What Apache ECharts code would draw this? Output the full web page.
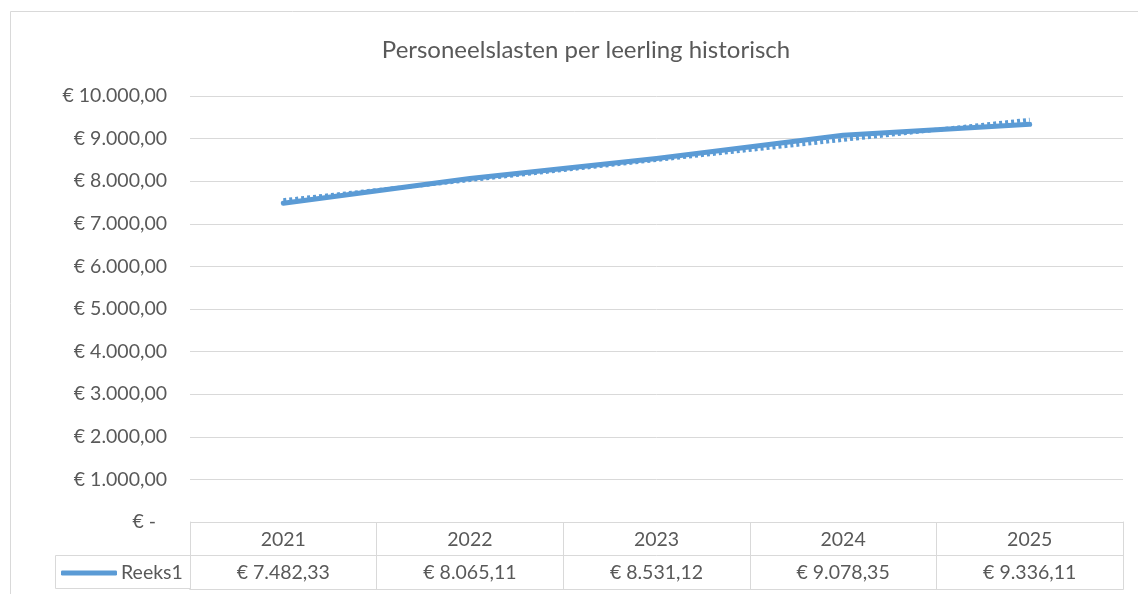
<!DOCTYPE html>
<html>
<head>
<meta charset="utf-8">
<script src="https://cdn.jsdelivr.net/npm/echarts@6/dist/echarts.min.js"></script>
<style>
  html, body { margin: 0; padding: 0; background: #ffffff; }
  #chart { width: 1138px; height: 594px; }
</style>
</head>
<body>
<div id="chart"></div>
<script>
// ---- data ----
const titleText = 'Personeelslasten per leerling historisch';
const seriesName = 'Reeks1';
const years = ['2021', '2022', '2023', '2024', '2025'];
const values = [7482.33, 8065.11, 8531.12, 9078.35, 9336.11];
const yMin = 0, yMax = 10000, yStep = 1000;

// ---- helpers ----
function eur(v) {
  if (v === 0) return '€ -';
  const parts = v.toFixed(2).split('.');
  const intPart = parts[0].replace(/\B(?=(\d{3})+(?!\d))/g, '.');
  return '€ ' + intPart + ',' + parts[1];
}
// linear trendline (least squares) computed from the series, like Excel's
function linearTrend(ys) {
  const n = ys.length;
  let sx = 0, sy = 0, sxx = 0, sxy = 0;
  ys.forEach((y, i) => { const x = i + 1; sx += x; sy += y; sxx += x * x; sxy += x * y; });
  const b = (n * sxy - sx * sy) / (n * sxx - sx * sx);
  const a = (sy - b * sx) / n;
  return ys.map((_, i) => a + b * (i + 1));
}
const trend = linearTrend(values);

const FONT = 'Lato';
const FS = 19.5;
const TXT = '#595959';
const LINE = '#d9d9d9';
const BLUE = '#5b9bd5';

const chart = echarts.init(document.getElementById('chart'), null, { renderer: 'canvas' });
chart.setOption({
  backgroundColor: '#ffffff',
  animation: false,
  textStyle: { fontFamily: FONT },
  title: {
    text: titleText,
    left: 581, top: 33, textAlign: 'center',
    textStyle: { fontFamily: FONT, fontSize: 24, fontWeight: 'normal', color: TXT }
  },
  legend: {
    data: [seriesName],
    left: 61, top: 563,
    padding: 0,
    itemWidth: 56, itemHeight: 5,
    itemGap: 0,
    icon: 'roundRect',
    textStyle: { fontFamily: FONT, fontSize: FS, color: TXT, padding: [0, 0, 0, -1] }
  },
  grid: [
    { left: 190, right: 15, top: 96, bottom: 72 },
    { left: 190, right: 15, top: 522, bottom: 5 }
  ],
  xAxis: [
    { type: 'category', gridIndex: 0, data: years, boundaryGap: true,
      axisLine: { show: false }, axisTick: { show: false }, axisLabel: { show: false },
      splitLine: { show: false } },
    { type: 'category', gridIndex: 1, data: years, boundaryGap: true, position: 'top',
      axisLine: { show: true, lineStyle: { color: LINE } }, axisTick: { show: false },
      axisLabel: { inside: true, margin: 8, color: TXT, fontFamily: FONT, fontSize: FS, interval: 0 },
      splitLine: { show: true, interval: 0, lineStyle: { color: LINE, width: 1 } } },
    { type: 'category', gridIndex: 1, data: years, boundaryGap: true, position: 'bottom',
      axisLine: { show: true, lineStyle: { color: LINE } }, axisTick: { show: false },
      axisLabel: { inside: true, margin: 6, color: TXT, fontFamily: FONT, fontSize: FS, interval: 0,
        formatter: (val, idx) => eur(values[idx]) },
      splitLine: { show: false } }
  ],
  yAxis: [
    { type: 'value', gridIndex: 0, min: yMin, max: yMax, interval: yStep,
      axisLine: { show: false }, axisTick: { show: false },
      axisLabel: { margin: 23, color: TXT, fontFamily: FONT, fontSize: FS,
        formatter: v => v === 0 ? '{z|' + eur(v) + '}' : eur(v),
        rich: { z: { color: TXT, fontFamily: FONT, fontSize: FS, padding: [0, 11, 0, 0] } } },
      splitLine: { show: true, lineStyle: { color: LINE, width: 1 } } },
    { type: 'value', gridIndex: 1, min: 0, max: 2, interval: 1,
      axisLine: { show: true, lineStyle: { color: LINE } }, axisTick: { show: false },
      axisLabel: { show: false },
      splitLine: { show: true, lineStyle: { color: LINE, width: 1 } } },
    { type: 'value', gridIndex: 1, min: 0, max: 2, interval: 1, position: 'right',
      axisLine: { show: true, lineStyle: { color: LINE } }, axisTick: { show: false },
      axisLabel: { show: false }, splitLine: { show: false } }
  ],
  graphic: [
    { type: 'rect', shape: { x: 10.5, y: 11.5, width: 1300, height: 800 },
      style: { fill: null, stroke: LINE, lineWidth: 1 }, silent: true, z: -1 },
    { type: 'rect', shape: { x: 55.5, y: 555.5, width: 135, height: 33 },
      style: { fill: null, stroke: LINE, lineWidth: 1 }, silent: true }
  ],
  series: [
    { name: seriesName, type: 'line', xAxisIndex: 0, yAxisIndex: 0, data: values,
      symbol: 'none', lineStyle: { color: BLUE, width: 5, cap: 'round', join: 'round' },
      itemStyle: { color: BLUE }, z: 2 },
    { name: 'Trend', type: 'line', xAxisIndex: 0, yAxisIndex: 0, data: trend,
      symbol: 'none', lineStyle: { color: BLUE, width: 4, type: [3, 3] },
      itemStyle: { color: BLUE }, z: 3 }
  ]
});
</script>
</body>
</html>
